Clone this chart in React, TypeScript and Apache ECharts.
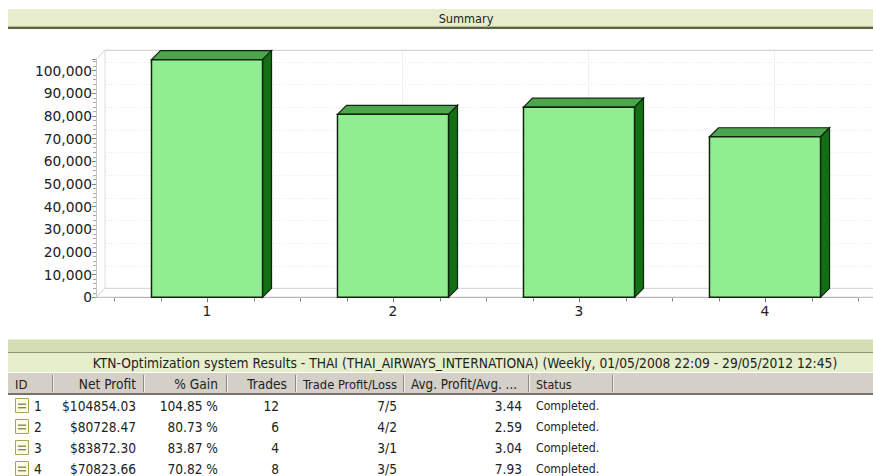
import React, { useEffect, useRef } from "react";
import * as echarts from "echarts";

const runs = [1, 2, 3, 4];
const netProfit = [104854.03, 80728.47, 83872.3, 70823.66];
const yTicks = [0, 10000, 20000, 30000, 40000, 50000, 60000, 70000, 80000, 90000, 100000];
const xTicks = [0.5, 0.75, 1, 1.25, 1.5, 1.75, 2, 2.25, 2.5, 2.75, 3, 3.25, 3.5, 3.75, 4, 4.25, 4.5];
const chartTitle = "Summary";
const tableTitle = "KTN-Optimization system Results - THAI (THAI_AIRWAYS_INTERNATIONA) (Weekly, 01/05/2008 22:09 - 29/05/2012 12:45)";
const headers = ["ID", "Net Profit", "% Gain", "Trades", "Trade Profit/Loss", "Avg. Profit/Avg. ...", "Status"];
const netProfitText = ["$104854.03", "$80728.47", "$83872.30", "$70823.66"];
const gainText = ["104.85 %", "80.73 %", "83.87 %", "70.82 %"];
const tradesText = ["12", "6", "4", "8"];
const winLossText = ["7/5", "4/2", "3/1", "3/5"];
const ratioText = ["3.44", "2.59", "3.04", "7.93"];
const statusText = ["Completed.", "Completed.", "Completed.", "Completed."];

const CHART_FONT = "DejaVu Sans";
const TABLE_FONT = "DejaVu Sans Condensed, DejaVu Sans";
const DEPTH = 9;
const W = 873;

function tableGraphics() {
  const els: any[] = [];
  const rect = (x: number, y: number, w: number, h: number, fill: string, stroke?: string) =>
    els.push({ type: "rect", silent: true, shape: { x, y, width: w, height: h }, style: { fill, stroke: stroke ?? "none", lineWidth: stroke ? 1 : 0 }, z: 1 });
  const text = (s: string, x: number, y: number, align = "left", size = 13.6) =>
    els.push({ type: "text", silent: true, x, y, style: { text: s, fill: "#222", font: `${size}px ${TABLE_FONT}`, textAlign: align, textVerticalAlign: "middle" }, z: 2 });

  // Summary band
  rect(8, 9, W - 8, 17, "#e7edcc");
  rect(8, 26, W - 8, 1, "#b4bb95");
  rect(8, 27, W - 8, 2, "#5b6440");
  text(chartTitle, 466, 18, "center", 12.6);

  // table bands
  rect(8, 339, W - 8, 1, "#e8ecd8");
  rect(8, 340, W - 8, 12, "#d3deb2");
  rect(8, 352, W - 8, 1, "#8d9573");
  rect(8, 353, W - 8, 19, "#e6eecb");
  text(tableTitle, 465, 363, "center", 13.7);
  rect(8, 373, W - 8, 20, "#d4d0c8");
  rect(8, 393, W - 8, 2, "#77746a");

  // header separators
  const seps = [52, 143, 226, 295, 403, 528, 612];
  seps.forEach((x) => {
    rect(x, 375, 1, 17, "#8f8b80");
    rect(x + 1, 375, 1, 17, "#f4f2ec");
  });
  const headX = [15, 136, 218, 287, 397, 517, 536];
  const headAlign = ["left", "right", "right", "right", "right", "right", "left"];
  const headSize = [13, 13.6, 13.6, 13.6, 12.8, 13.3, 12.4];
  headers.forEach((h, i) => text(h, headX[i], 384, headAlign[i], headSize[i]));

  // rows
  const rowY = [406, 427, 448, 469];
  rowY.forEach((y, i) => {
    rect(15.5, y - 7.5, 13, 14, "#fdfbe6", "#a8a45a");
    rect(18, y - 2.5, 8, 1.4, "#7f8a55");
    rect(18, y + 1, 8, 1.4, "#7f8a55");
    text(String(runs[i]), 34, y);
    text(netProfitText[i], 136, y, "right");
    text(gainText[i], 218, y, "right");
    text(tradesText[i], 279, y, "right");
    text(winLossText[i], 397, y, "right");
    text(ratioText[i], 522, y, "right");
    text(statusText[i], 536, y, "left", 12.2);
  });
  return els;
}

export default function App() {
  const ref = useRef<HTMLDivElement>(null);
  useEffect(() => {
    const chart = echarts.init(ref.current!, undefined, { renderer: "svg" });
    const option: any = {
      animation: false,
      backgroundColor: "#fff",
      grid: { left: 114, width: 744, top: 59.3, height: 238 },
      xAxis: {
        type: "value",
        min: 0.5,
        max: 4.5,
        interval: 0.25,
        axisLine: { show: true, onZero: false, lineStyle: { color: "#b4b4b4" } },
        splitLine: { show: false },
        axisTick: { show: false },
        axisLabel: {
          margin: 7,
          color: "#222",
          fontFamily: CHART_FONT,
          fontSize: 13.8,
          showMinLabel: false,
          showMaxLabel: false,
          formatter: (v: number) => (Number.isInteger(v) ? String(v) : ""),
        },
      },
      yAxis: {
        type: "value",
        min: 0,
        max: 105000,
        interval: 10000,
        offset: 18,
        axisLine: { show: true, lineStyle: { color: "#c4c4c4" } },
        axisTick: { show: true, length: 4, lineStyle: { color: "#888" } },
        minorTick: { show: true, splitNumber: 5, length: 3, lineStyle: { color: "#aaa" } },
        splitLine: { show: false },
        axisLabel: {
          margin: 4,
          color: "#222",
          fontFamily: CHART_FONT,
          fontSize: 13.8,
          showMaxLabel: false,
          formatter: (v: number) => (v % 10000 === 0 ? v.toLocaleString("en-US") : ""),
        },
      },
      graphic: { elements: tableGraphics() },
      series: [
        {
          type: "custom",
          silent: true,
          z: 1,
          clip: false,
          encode: { x: 0, y: 1 },
          data: [[1, 0]],
          renderItem: (_p: any, api: any) => {
            const [, y0] = api.coord([1, 0]);
            const [, yTop] = api.coord([1, 105000]);
            const [xl] = api.coord([0.5, 0]);
            const leftFront = xl - 18;
            const line = (x1: number, y1: number, x2: number, y2: number, stroke: string, dash?: number[], w = 1) => ({
              type: "line",
              shape: { x1, y1, x2, y2 },
              style: { stroke, lineWidth: w, lineDash: dash ?? null },
            });
            const children: any[] = [];
            yTicks.slice(1).forEach((t) => {
              const y = Math.round(api.coord([1, t])[1] - DEPTH) + 0.5;
              children.push(line(leftFront + DEPTH, y, W, y, "#e6e6e6", [1, 2]));
            });
            runs.forEach((r) => {
              const x = Math.round(api.coord([r, 0])[0] + DEPTH) + 0.5;
              children.push(line(x, yTop - DEPTH, x, y0 - DEPTH, "#f0f0f0"));
            });
            const bx = leftFront + DEPTH;
            children.push(line(bx, yTop - DEPTH, W, yTop - DEPTH, "#c8c8c8"));
            children.push(line(bx, yTop - DEPTH, bx, y0 - DEPTH, "#dddddd"));
            children.push(line(bx, y0 - DEPTH, W, y0 - DEPTH, "#d0d0d0"));
            children.push(line(leftFront, yTop, bx, yTop - DEPTH, "#d0d0d0"));
            children.push(line(leftFront, y0, bx, y0 - DEPTH, "#d0d0d0"));
            children.push(line(leftFront, y0, W, y0, "#b4b4b4"));
            xTicks.forEach((t) => {
              const x = Math.round(api.coord([t, 0])[0]) + 0.5;
              children.push(line(x, y0 + 1, x, y0 + (Number.isInteger(t) ? 5 : 4), "#777"));
            });
            return { type: "group", children };
          },
        },
        {
          type: "custom",
          silent: true,
          z: 3,
          clip: false,
          encode: { x: 0, y: 1 },
          data: runs.map((r, i) => [r, netProfit[i]]),
          renderItem: (_p: any, api: any) => {
            const [cx, yv] = api.coord([api.value(0), api.value(1)]);
            const [, y0] = api.coord([api.value(0), 0]);
            const w = api.size([0.597, 0])[0];
            const l = cx - w / 2;
            const r = cx + w / 2;
            const stroke = "#10250f";
            return {
              type: "group",
              children: [
                {
                  type: "polygon",
                  shape: { points: [[l, yv], [l + DEPTH, yv - DEPTH], [r + DEPTH, yv - DEPTH], [r, yv]] },
                  style: { fill: "#4ca64c", stroke, lineWidth: 1.2 },
                },
                {
                  type: "polygon",
                  shape: { points: [[r, yv], [r + DEPTH, yv - DEPTH], [r + DEPTH, y0 - DEPTH], [r, y0]] },
                  style: { fill: "#136f13", stroke, lineWidth: 1.2 },
                },
                {
                  type: "rect",
                  shape: { x: l, y: yv, width: w, height: y0 - yv },
                  style: { fill: "#90ee90", stroke, lineWidth: 1.5 },
                },
              ],
            };
          },
        },
      ],
    };
    chart.setOption(option);
    return () => chart.dispose();
  }, []);
  return <div ref={ref} style={{ position: "absolute", left: 0, top: 0, width: 873, height: 476 }} />;
}
